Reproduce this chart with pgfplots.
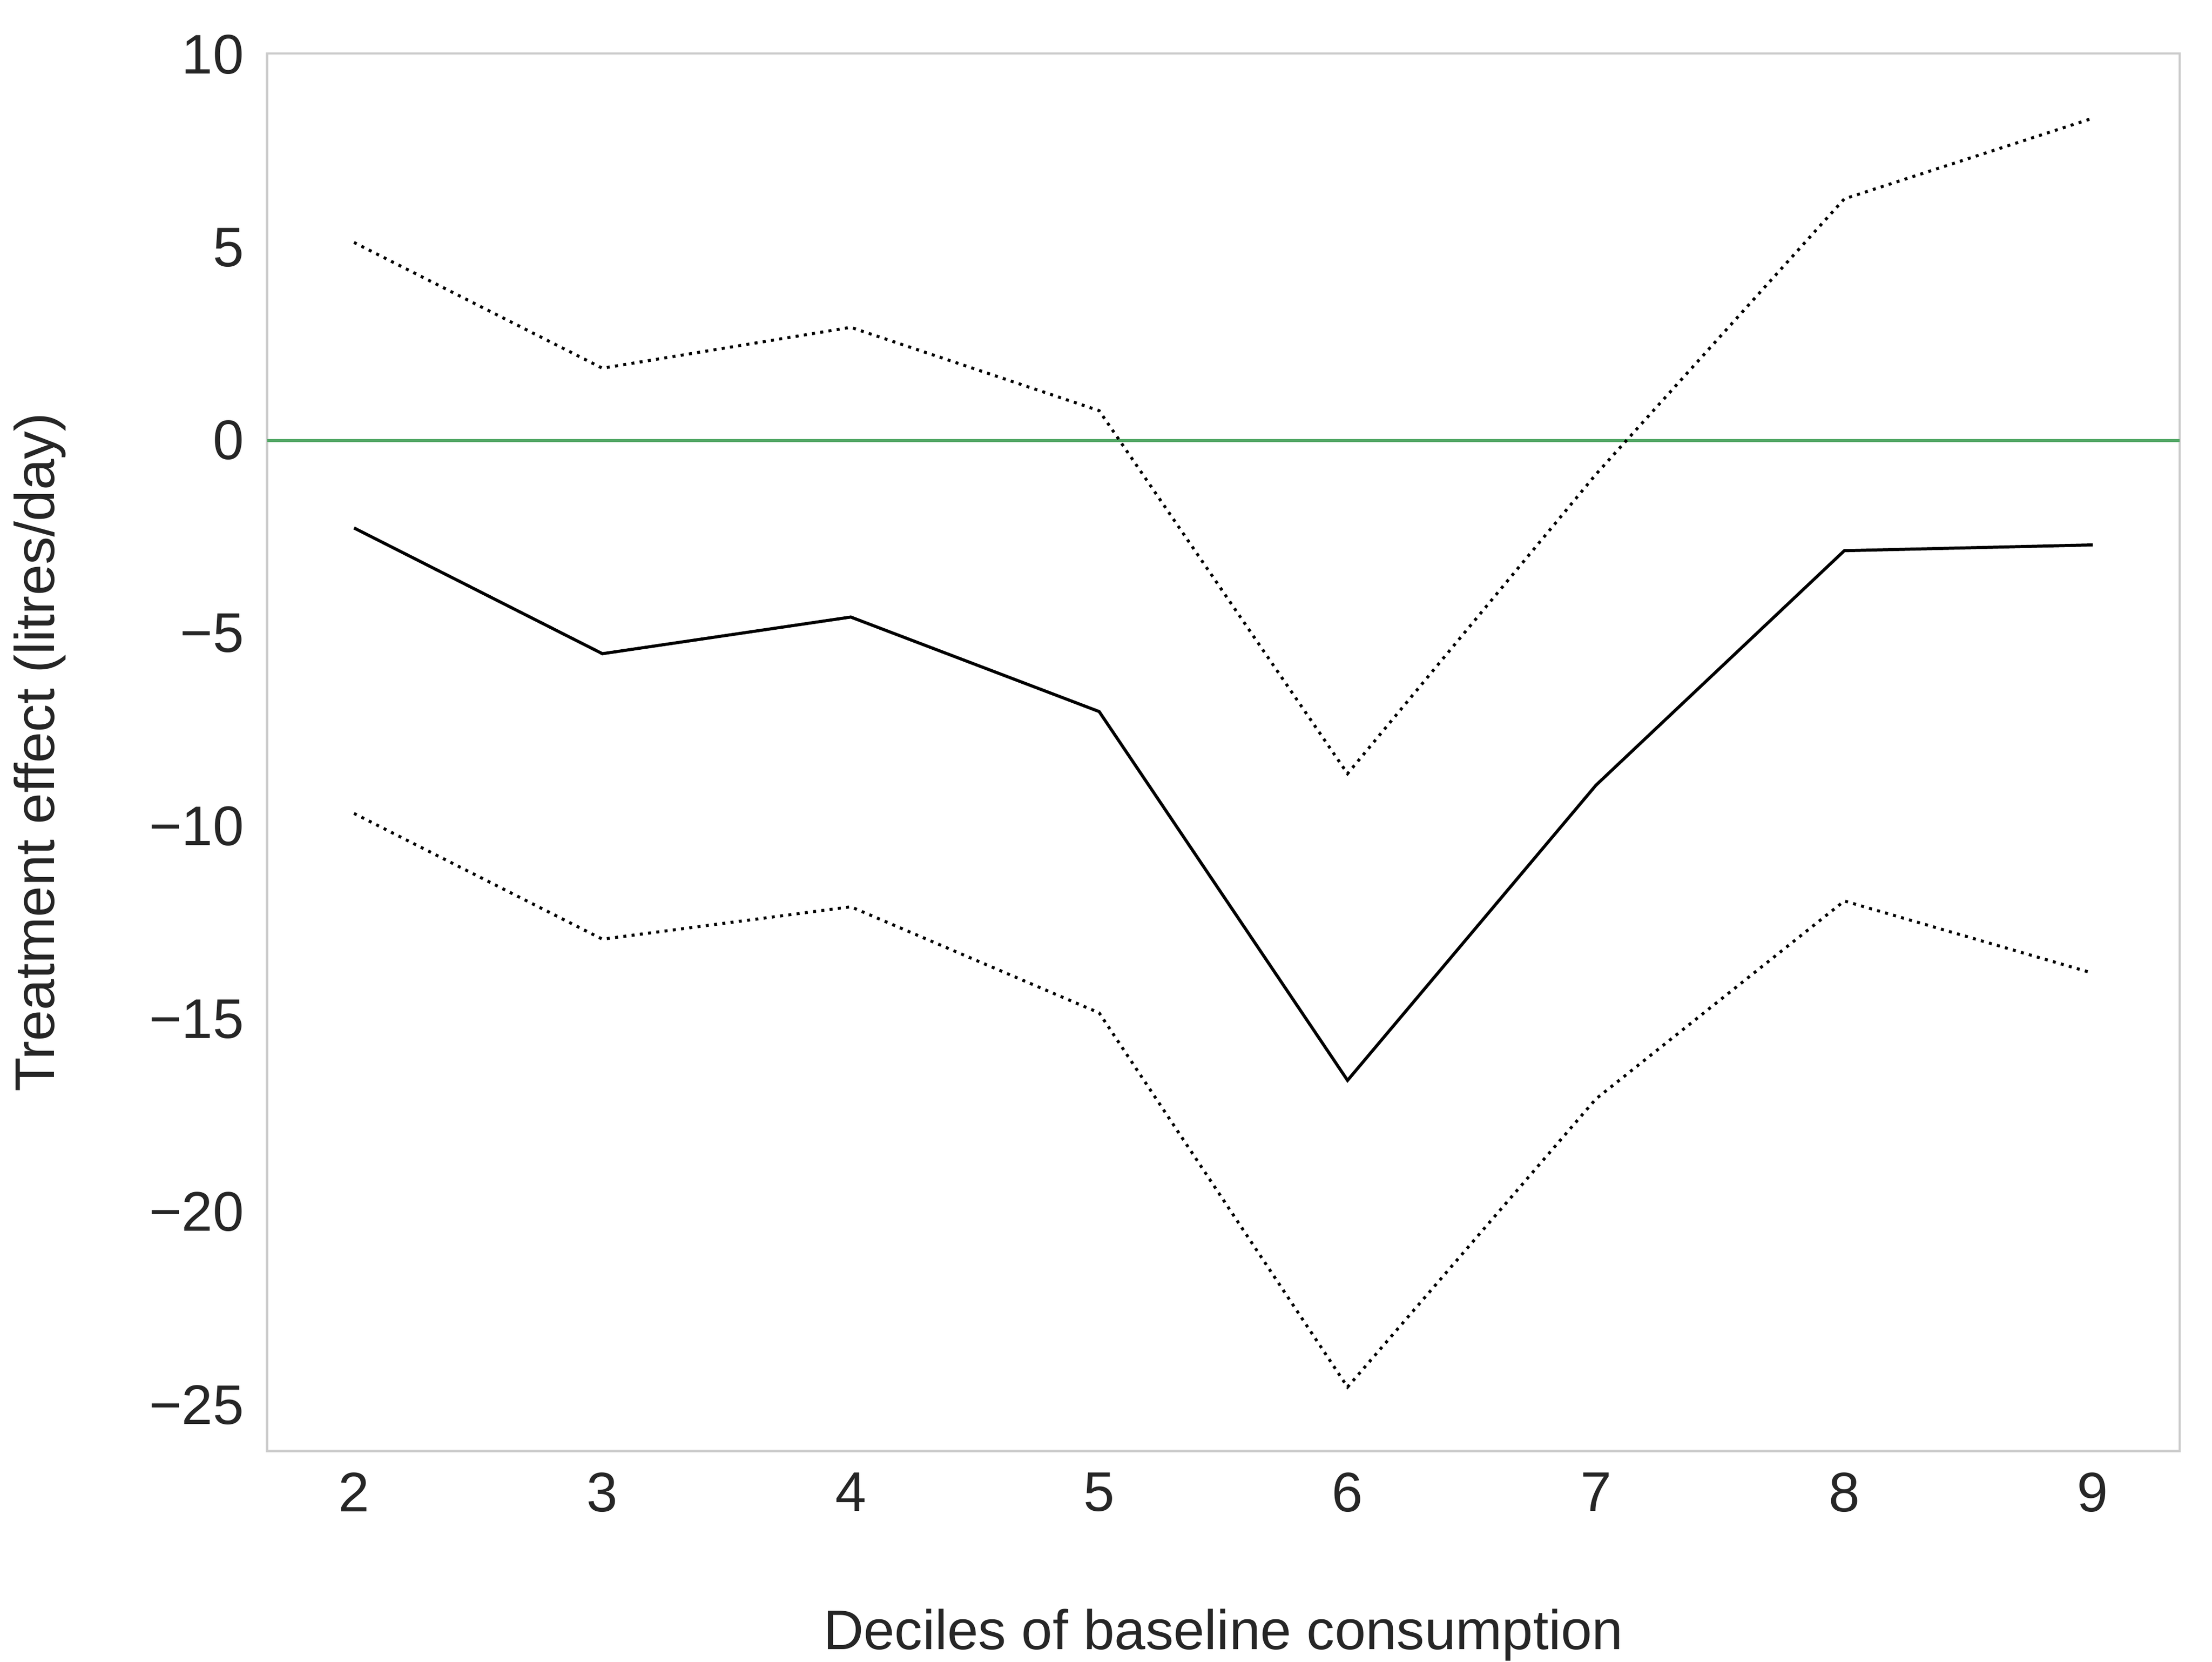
\documentclass[border=0pt]{standalone}
\usepackage{fontspec}
\setmainfont{Liberation Sans}
\usepackage{pgfplots}
\pgfplotsset{compat=1.18}
\definecolor{txt}{HTML}{262626}
\definecolor{spine}{HTML}{CCCCCC}
\definecolor{sgreen}{HTML}{55A868}
\begin{document}
\begin{tikzpicture}
\begin{axis}[
  scale only axis,
  width=404.6pt, height=295.6pt,
  xmin=1.65, xmax=9.35,
  ymin=-26.2, ymax=10.03,
  axis line style={draw=spine, line width=0.51pt},
  major tick length=0pt,
  tick style={draw=none},
  xtick={2,3,4,5,6,7,8,9},
  xticklabels={2,3,4,5,6,7,8,9},
  ytick={-25,-20,-15,-10,-5,0,5,10},
  yticklabels={−25,−20,−15,−10,−5,0,5,10},
  /pgf/number format/assume math mode=true,
  tick label style={font=\fontsize{11.8}{14}\selectfont, text=txt, inner sep=0pt},
  xticklabel style={anchor=north, yshift=-4.4pt},
  yticklabel style={anchor=east, xshift=-4.7pt},
  xlabel={Deciles of baseline consumption},
  ylabel={Treatment effect (litres/day)},
  label style={font=\fontsize{11.8}{14}\selectfont, text=txt, inner sep=0pt},
  xlabel style={at={([yshift=-41.9pt]axis description cs:0.5,0)}, anchor=base},
  ylabel style={at={([xshift=-45pt]axis description cs:0,0.5)}, anchor=base},
]
\addplot[sgreen, line width=0.65pt] coordinates {(1.65,0) (9.35,0)};
\addplot[black, line width=0.65pt] coordinates {
  (2,-2.27) (3,-5.53) (4,-4.58) (5,-7.03) (6,-16.59) (7,-8.94) (8,-2.86) (9,-2.71)};
\addplot[black, line width=0.63pt, dash pattern=on 0.63pt off 1.13pt] coordinates {
  (2,5.13) (3,1.87) (4,2.93) (5,0.77) (6,-8.64) (7,-0.88) (8,6.26) (9,8.35)};
\addplot[black, line width=0.63pt, dash pattern=on 0.63pt off 1.13pt] coordinates {
  (2,-9.67) (3,-12.93) (4,-12.09) (5,-14.84) (6,-24.54) (7,-17.07) (8,-11.94) (9,-13.81)};
\end{axis}
\pgfresetboundingbox
\path[use as bounding box] (-56.5pt,-44.6pt) rectangle (411.45pt,306.9pt);
\end{tikzpicture}
\end{document}
